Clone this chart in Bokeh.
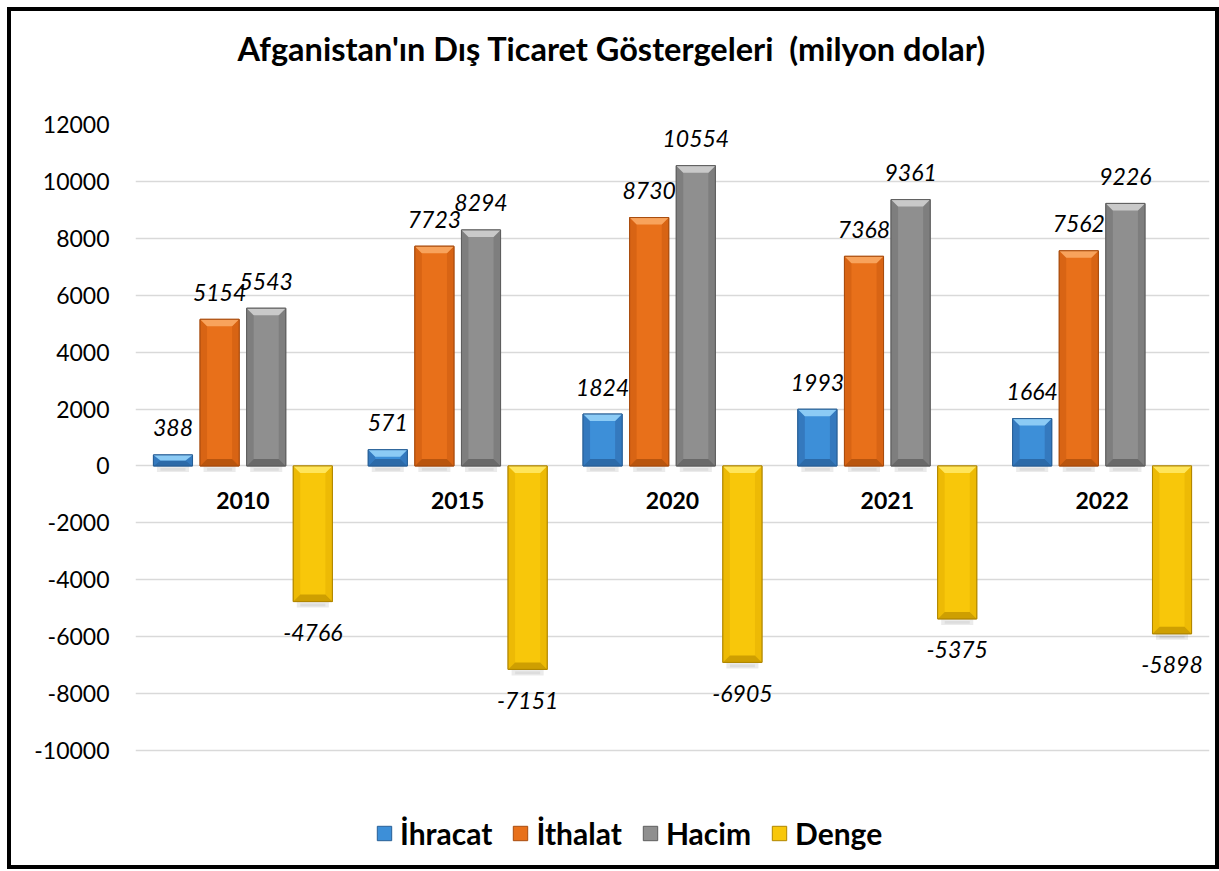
import numpy as np
from bokeh.plotting import figure
from bokeh.layouts import column
from bokeh.models import ColumnDataSource, Range1d, FixedTicker, Legend, LegendItem, Title
from bokeh.core.properties import value
from bokeh.embed import file_html
from bokeh.resources import INLINE

# ---------------- data ----------------
years = ["2010", "2015", "2020", "2021", "2022"]
series_names = ["İhracat", "İthalat", "Hacim", "Denge"]
ihracat = [388, 571, 1824, 1993, 1664]
ithalat = [5154, 7723, 8730, 7368, 7562]
hacim = [5543, 8294, 10554, 9361, 9226]
denge = [-4766, -7151, -6905, -5375, -5898]
y_ticks = list(range(-10000, 12001, 2000))
title_text = "Afganistan'ın Dış Ticaret Göstergeleri\u00a0 (milyon dolar)"

series_values = [ihracat, ithalat, hacim, denge]

# ---------------- style ----------------
# main, light(top bevel), dark(bottom bevel), side, outline
palette = [
    ("#3D8FD8", "#8CCBF5", "#2A66A3", "#3479BE", "#285F96"),
    ("#E8701A", "#F8A35C", "#B4520D", "#D86414", "#A84C0E"),
    ("#8F8F8F", "#C9C9C9", "#656565", "#7E7E7E", "#5E5E5E"),
    ("#F8C70A", "#FFE55A", "#C99A00", "#EDBA05", "#B08600"),
]
FONT = "Lato"
W, H = 1204, 854
ML, MR, MT, MB = 124, 6, 113, 5
FW, FH = W - ML - MR, H - MT - MB
TICK_PX = 626  # pixel span between the -10000 and 12000 gridlines
ypx = (y_ticks[-1] - y_ticks[0]) / TICK_PX
YMAX = y_ticks[-1]
YMIN = YMAX - FH * ypx
xpx = len(years) / FW
bar_width = 0.182
bar_step = 0.217
bev = 7

p = figure(width=W, height=H, x_range=Range1d(0, len(years)), y_range=Range1d(YMIN, YMAX),
           output_backend="svg", toolbar_location=None,
           min_border_left=ML, min_border_right=MR, min_border_top=MT, min_border_bottom=MB)
p.outline_line_color = None
p.background_fill_color = "white"
p.border_fill_color = "white"

# real title, with a blank spacer title between it and the frame
p.title.text = title_text
p.title.text_font = FONT
p.title.text_font_size = "32.5px"
p.title.text_font_style = "bold"
p.title.text_color = "black"
p.title.align = "left"
p.title.offset = 102
p.title.standoff = 0
spacer = Title(text=" ", text_font_size="10px", standoff=44)
p.add_layout(spacer, "above")

p.xaxis.visible = False
p.xgrid.visible = False
p.yaxis.ticker = FixedTicker(ticks=y_ticks)
p.ygrid.ticker = FixedTicker(ticks=y_ticks)
p.yaxis.major_label_overrides = {t: str(t) for t in y_ticks}
p.ygrid.grid_line_color = "#D9D9D9"
p.ygrid.grid_line_width = 1.3
p.yaxis.axis_line_color = None
p.yaxis.major_tick_line_color = None
p.yaxis.minor_tick_line_color = None
p.yaxis.major_label_standoff = 20
p.yaxis.major_label_text_font = FONT
p.yaxis.major_label_text_font_size = "23px"
p.yaxis.major_label_text_color = "black"

legend_items = []
for k, (name, vals) in enumerate(zip(series_names, series_values)):
    main, light, dark, side, outline = palette[k]
    cx = np.arange(len(years)) + 0.5 + (k - 1.5) * bar_step
    v = np.array(vals, dtype=float)
    top = np.maximum(v, 0)
    bot = np.minimum(v, 0)
    l = cx - bar_width / 2
    r = cx + bar_width / 2
    dy = np.minimum(bev * ypx, (top - bot) / 2)
    dx = bev * xpx
    # soft shadow
    sh = 6 * ypx
    p.quad(left=l + dx / 2, right=r - dx / 2, top=bot, bottom=bot - sh,
           fill_color="black", fill_alpha=0.08, line_color=None)
    p.quad(left=l + dx, right=r - dx, top=bot - sh / 3, bottom=bot - sh * 0.8,
           fill_color="black", fill_alpha=0.06, line_color=None)
    src = ColumnDataSource(dict(x=cx, top=top, bottom=bot, v=v))
    r_main = p.vbar(x="x", top="top", bottom="bottom", width=bar_width, source=src,
                    fill_color=main, line_color=outline, line_width=1)
    # bevel faces
    top_xs = [[a, b, b - dx, a + dx] for a, b in zip(l, r)]
    top_ys = [[t, t, t - d, t - d] for t, d in zip(top, dy)]
    bot_xs = top_xs
    bot_ys = [[s, s, s + d, s + d] for s, d in zip(bot, dy)]
    left_xs = [[a, a + dx, a + dx, a] for a in l]
    side_ys = [[t, t - d, s + d, s] for t, s, d in zip(top, bot, dy)]
    right_xs = [[b, b - dx, b - dx, b] for b in r]
    p.patches(left_xs, side_ys, fill_color=side, line_color=None)
    p.patches(right_xs, side_ys, fill_color=side, line_color=None)
    p.patches(bot_xs, bot_ys, fill_color=dark, fill_alpha=0.9, line_color=None)
    p.patches(top_xs, top_ys, fill_color=light, line_color=None)
    p.vbar(x="x", top="top", bottom="bottom", width=bar_width, source=src,
           fill_color=None, line_color=outline, line_width=1)
    legend_items.append(LegendItem(label=name, renderers=[r_main]))
    # value labels
    lab = ColumnDataSource(dict(x=cx, y=v, t=[str(int(a)) for a in vals],
                                off=[-27 if a >= 0 else 31 for a in vals]))
    p.text(x="x", y="y", text="t", y_offset="off", source=lab,
           text_font=value(FONT), text_font_style="italic", text_font_size="23px",
           text_align="center", text_baseline="middle", text_color="black")

# category labels
cat = ColumnDataSource(dict(x=np.arange(len(years)) + 0.5, y=[0] * len(years), t=years))
p.text(x="x", y="y", text="t", y_offset=35, source=cat,
       text_font=value(FONT), text_font_style="bold", text_font_size="23px",
       text_align="center", text_baseline="middle", text_color="black")

legend = Legend(items=legend_items, orientation="horizontal", location=(240, 9))
legend.label_text_font = FONT
legend.label_text_font_style = "bold"
legend.label_text_font_size = "30px"
legend.label_text_color = "black"
legend.glyph_width = 18
legend.glyph_height = 18
legend.label_standoff = 7
legend.spacing = 19
legend.padding = 0
legend.margin = 0
legend.border_line_color = None
legend.background_fill_alpha = 0
p.add_layout(legend, "center")

page = column(p, margin=(7, 0, 0, 7), styles={"border": "4px solid black"})
open("out.html", "w").write(file_html(page, INLINE))
